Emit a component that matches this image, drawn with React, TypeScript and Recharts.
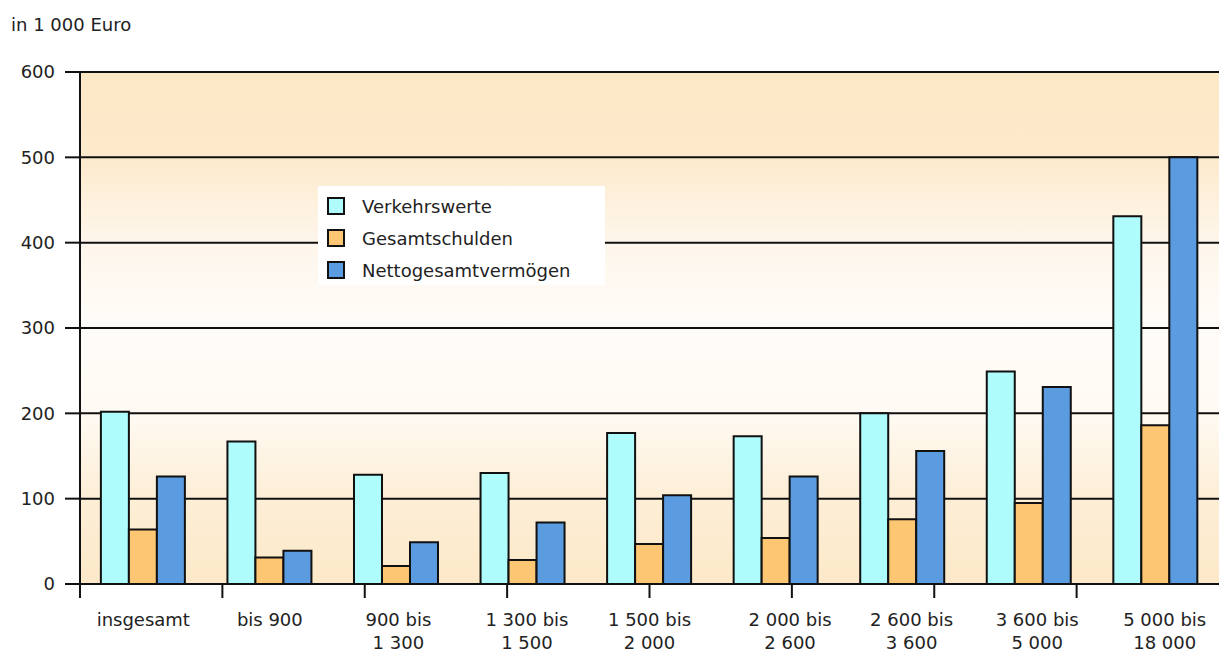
import React from 'react'
import { BarChart, Bar, XAxis, YAxis, CartesianGrid } from 'recharts'

const categories = [
  'insgesamt',
  'bis 900',
  '900 bis\n1 300',
  '1 300 bis\n1 500',
  '1 500 bis\n2 000',
  '2 000 bis\n2 600',
  '2 600 bis\n3 600',
  '3 600 bis\n5 000',
  '5 000 bis\n18 000',
]
const verkehrswerte = [202, 167, 128, 130, 177, 173, 200, 249, 431]
const gesamtschulden = [64, 31, 21, 28, 47, 54, 76, 95, 186]
const nettovermoegen = [126, 39, 49, 72, 104, 126, 156, 231, 500]
const yTicks = [0, 100, 200, 300, 400, 500, 600]
const boundaryTicks = [0, 1, 2, 3, 4, 5, 6, 7, 8, 9]

const seriesNames = ['Verkehrswerte', 'Gesamtschulden', 'Nettogesamtvermögen']
const seriesColors = ['#aefcfc', '#fdc673', '#5b9be0']

const data = categories.map((c, i) => ({
  name: c,
  v: verkehrswerte[i],
  g: gesamtschulden[i],
  n: nettovermoegen[i],
}))

const FONT = '"DejaVu Sans", sans-serif'
const FS = 18

// the original labels sit a little off-centre in some bands
const labelShift = [0, 0, 2, 4, 0, 14, 9, 8, 9]

const CategoryTick = (props: any) => {
  const { x, y, payload, index } = props
  const lines = String(payload.value).split('\n')
  const dx = labelShift[index] ?? 0
  return (
    <g>
      {lines.map((l, i) => (
        <text
          key={i}
          x={x + dx}
          y={y + 28 + i * 23}
          textAnchor="middle"
          fontSize={FS}
          fontFamily={FONT}
          fill="#222"
        >
          {l}
        </text>
      ))}
    </g>
  )
}

// tick lines only, no labels
const NoLabel = () => <g />

const LegendBox = () => (
  <div
    style={{
      position: 'absolute',
      left: 318,
      top: 186,
      background: '#fff',
      width: 287,
      height: 99,
      boxSizing: 'border-box',
      padding: '4px 0 0 9px',
      fontFamily: FONT,
      fontSize: FS,
      color: '#222',
    }}
  >
    {seriesNames.map((s, i) => (
      <div key={s} style={{ display: 'flex', alignItems: 'center', height: 32 }}>
        <span
          style={{
            display: 'inline-block',
            width: 14,
            height: 14,
            background: seriesColors[i],
            border: '2px solid #111',
            marginRight: 17,
          }}
        />
        {s}
      </div>
    ))}
  </div>
)

export default function App() {
  return (
    <div style={{ position: 'absolute', left: 0, top: 0, width: 1219, height: 652, background: '#fff' }}>
      <div
        style={{
          position: 'absolute',
          left: 11,
          top: 14,
          fontFamily: FONT,
          fontSize: FS,
          color: '#222',
        }}
      >
        in 1 000 Euro
      </div>
      <BarChart
        width={1219}
        height={652}
        data={data}
        margin={{ top: 72, right: 0, bottom: 0, left: 0 }}
        barCategoryGap="16.5%"
        barGap={0}
      >
        <defs>
          <linearGradient id="bg" x1="0" y1="0" x2="0" y2="1">
            <stop offset="0" stopColor="#fde8c6" />
            <stop offset="0.167" stopColor="#fdeacc" />
            <stop offset="0.333" stopColor="#fef6ec" />
            <stop offset="0.5" stopColor="#fffcf8" />
            <stop offset="0.667" stopColor="#fffaf3" />
            <stop offset="0.833" stopColor="#fdeed6" />
            <stop offset="1" stopColor="#fde9c9" />
          </linearGradient>
        </defs>
        <CartesianGrid vertical={false} stroke="#111" strokeWidth={2} fill="url(#bg)" fillOpacity={1} />
        <XAxis
          xAxisId="a_ticks"
          type="number"
          domain={[0, 9]}
          allowDataOverflow
          ticks={boundaryTicks}
          tick={<NoLabel />}
          tickSize={14}
          height={14}
          axisLine={false}
          tickLine={{ stroke: '#111', strokeWidth: 2 }}
        />
        <XAxis
          xAxisId="b_cat"
          dataKey="name"
          height={54}
          axisLine={false}
          tickLine={false}
          tickSize={0}
          tickMargin={0}
          interval={0}
          tick={<CategoryTick />}
        />
        <YAxis
          width={80}
          domain={[0, 600]}
          ticks={yTicks}
          interval={0}
          tickSize={15}
          tickMargin={10}
          axisLine={{ stroke: '#111', strokeWidth: 2 }}
          tickLine={{ stroke: '#111', strokeWidth: 2 }}
          tick={{ fontSize: FS, fontFamily: FONT, fill: '#222' }}
        />
        <Bar xAxisId="b_cat" dataKey="v" name={seriesNames[0]} fill={seriesColors[0]} stroke="#111" strokeWidth={2} isAnimationActive={false} />
        <Bar xAxisId="b_cat" dataKey="g" name={seriesNames[1]} fill={seriesColors[1]} stroke="#111" strokeWidth={2} isAnimationActive={false} />
        <Bar xAxisId="b_cat" dataKey="n" name={seriesNames[2]} fill={seriesColors[2]} stroke="#111" strokeWidth={2} isAnimationActive={false} />
      </BarChart>
      <LegendBox />
    </div>
  )
}
